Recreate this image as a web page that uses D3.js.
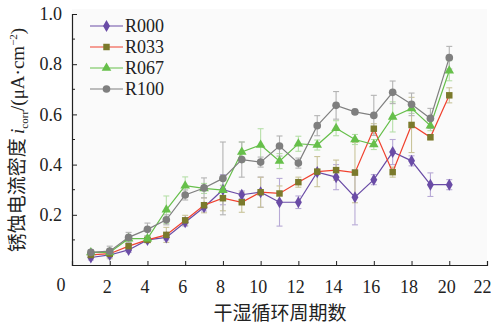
<!DOCTYPE html>
<html>
<head>
<meta charset="utf-8">
<script src="https://cdn.jsdelivr.net/npm/d3@7"></script>
<style>
  body { margin: 0; background: #fff; }
  svg { display: block; }
</style>
</head>
<body>
<div id="chart"></div>
<script>
(function () {
  // data
  const cycles = [1, 2, 3, 4, 5, 6, 7, 8, 9, 10, 11, 12, 13, 14, 15, 16, 17, 18, 19, 20];
  const seriesNames = ["R000", "R033", "R067", "R100"];

  const r000 = [0.03, 0.04, 0.06, 0.10, 0.11, 0.17, 0.23, 0.30, 0.28, 0.29, 0.25, 0.25, 0.37, 0.35, 0.27, 0.34, 0.45, 0.415, 0.32, 0.32];
  const r000Err = [0.01, 0.01, 0.01, 0.01, 0.01, 0.015, 0.015, 0.06, 0.015, 0.06, 0.095, 0.025, 0.01, 0.05, 0.11, 0.02, 0.05, 0.02, 0.047, 0.02];

  const r033 = [0.04, 0.045, 0.075, 0.10, 0.12, 0.178, 0.238, 0.266, 0.25, 0.29, 0.285, 0.33, 0.372, 0.378, 0.368, 0.543, 0.37, 0.558, 0.509, 0.676];
  const r033Err = [0.01, 0.02, 0.01, 0.01, 0.03, 0.02, 0.03, 0.05, 0.04, 0.06, 0.03, 0.02, 0.06, 0.04, 0.12, 0.02, 0.02, 0.11, 0.01, 0.03];

  const r067 = [0.05, 0.05, 0.105, 0.105, 0.22, 0.316, 0.305, 0.298, 0.45, 0.478, 0.414, 0.483, 0.478, 0.545, 0.50, 0.48, 0.59, 0.624, 0.555, 0.774];
  const r067Err = [0.01, 0.01, 0.01, 0.01, 0.055, 0.035, 0.02, 0.02, 0.04, 0.065, 0.03, 0.03, 0.02, 0.03, 0.02, 0.02, 0.06, 0.02, 0.02, 0.04];

  const r100 = [0.05, 0.055, 0.11, 0.142, 0.18, 0.279, 0.307, 0.345, 0.42, 0.41, 0.474, 0.406, 0.555, 0.636, 0.61, 0.596, 0.688, 0.64, 0.584, 0.826];
  const r100Err = [0.01, 0.02, 0.02, 0.025, 0.02, 0.02, 0.04, 0.145, 0.07, 0.02, 0.04, 0.02, 0.04, 0.055, 0.01, 0.08, 0.045, 0.045, 0.04, 0.045];

  const xTicks = [2, 4, 6, 8, 10, 12, 14, 16, 18, 20, 22];
  const yTicks = [0.2, 0.4, 0.6, 0.8, 1.0];
  const yMinorTicks = [0.1, 0.3, 0.5, 0.7, 0.9];

  const W = 494, H = 328;
  const svg = d3.select("#chart").append("svg")
    .attr("width", W)
    .attr("height", H);

  const x = d3.scaleLinear().domain([0, 22]).range([72, 487]);
  const y = d3.scaleLinear().domain([0, 1]).range([265, 14]);

  // plot background
  svg.append("rect")
    .attr("x", x(0)).attr("y", 9)
    .attr("width", x(22) - x(0)).attr("height", y(0) - 9)
    .attr("fill", "#fafafa");

  const styles = {
    R000: { line: "#6a4ca6", fill: "#6a4ca6", err: "#b7a9d6", symbol: d3.symbolDiamond, size: 42 },
    R033: { line: "#f0412e", fill: "#7b7a2c", err: "#c9c49a", symbol: d3.symbolSquare, size: 42 },
    R067: { line: "#66bf4a", fill: "#66bf4a", err: "#b6dfa8", symbol: d3.symbolTriangle, size: 40 },
    R100: { line: "#7f7f7f", fill: "#7f7f7f", err: "#b3b3b3", symbol: d3.symbolCircle, size: 46 }
  };

  const series = [
    { name: "R000", values: r000, errs: r000Err },
    { name: "R033", values: r033, errs: r033Err },
    { name: "R067", values: r067, errs: r067Err },
    { name: "R100", values: r100, errs: r100Err }
  ];

  const line = d3.line().x(d => x(d.c)).y(d => y(d.v));

  // error bars first
  series.forEach(s => {
    const st = styles[s.name];
    const g = svg.append("g").attr("stroke", st.err).attr("stroke-width", 1.1).attr("fill", "none");
    cycles.forEach((c, i) => {
      const lo = y(s.values[i] - s.errs[i]);
      const hi = y(s.values[i] + s.errs[i]);
      const cx = x(c);
      g.append("line").attr("x1", cx).attr("x2", cx).attr("y1", lo).attr("y2", hi);
      g.append("line").attr("x1", cx - 3).attr("x2", cx + 3).attr("y1", lo).attr("y2", lo);
      g.append("line").attr("x1", cx - 3).attr("x2", cx + 3).attr("y1", hi).attr("y2", hi);
    });
  });

  // lines and markers
  series.forEach(s => {
    const st = styles[s.name];
    const pts = cycles.map((c, i) => ({ c: c, v: s.values[i] }));
    svg.append("path")
      .datum(pts)
      .attr("d", line)
      .attr("fill", "none")
      .attr("stroke", st.line)
      .attr("stroke-width", 1.2);
    svg.append("g").selectAll("path")
      .data(pts)
      .join("path")
      .attr("transform", d => `translate(${x(d.c)},${y(d.v)})`)
      .attr("d", d3.symbol().type(st.symbol).size(st.size))
      .attr("fill", st.fill);
  });

  // axes
  const font = "'Liberation Serif', 'DejaVu Serif', serif";
  const xAxis = svg.append("g")
    .attr("transform", `translate(0,${y(0)})`)
    .call(d3.axisBottom(x).tickValues(xTicks).tickSize(-4).tickFormat(d3.format("d")).tickPadding(12));
  xAxis.select(".domain").attr("stroke", "#222").attr("stroke-width", 1.2);
  xAxis.selectAll(".tick line").attr("stroke", "#222");
  xAxis.selectAll(".tick text")
    .attr("font-family", font).attr("font-size", 18).attr("fill", "#222")
    .attr("dy", "0.9em")
    .attr("dx", d => d === 22 ? -5 : -3);

  const yAxis = svg.append("g")
    .attr("transform", `translate(${x(0)},0)`)
    .call(d3.axisLeft(y).tickValues(yTicks).tickSize(-5).tickFormat(d3.format(".1f")).tickPadding(10));
  yAxis.select(".domain").attr("stroke", "#222").attr("stroke-width", 1.2);
  yAxis.selectAll(".tick line").attr("stroke", "#222");
  yAxis.selectAll(".tick text")
    .attr("font-family", font).attr("font-size", 18).attr("fill", "#222");

  svg.append("g").selectAll("line")
    .data(yMinorTicks)
    .join("line")
    .attr("x1", x(0)).attr("x2", x(0) + 3)
    .attr("y1", d => y(d)).attr("y2", d => y(d))
    .attr("stroke", "#222");

  // origin label
  svg.append("text")
    .attr("x", 61).attr("y", 291)
    .attr("text-anchor", "middle")
    .attr("font-family", font).attr("font-size", 18).attr("fill", "#222")
    .text("0");

  // axis titles
  const cjk = "'Noto Sans CJK SC', sans-serif";
  svg.append("text")
    .attr("x", 280).attr("y", 320)
    .attr("text-anchor", "middle")
    .attr("font-family", cjk).attr("font-size", 19).attr("fill", "#222")
    .text("干湿循环周期数");

  const yTitle = svg.append("text")
    .attr("transform", "translate(24,140) rotate(-90)")
    .attr("text-anchor", "middle")
    .attr("font-family", cjk).attr("font-size", 19).attr("fill", "#222");
  yTitle.append("tspan").text("锈蚀电流密度 ");
  yTitle.append("tspan").attr("font-family", font).attr("font-style", "italic").text("i");
  yTitle.append("tspan").attr("font-family", font).attr("font-size", 11).attr("dy", 4).text("corr");
  yTitle.append("tspan").attr("font-family", font).attr("dy", -4).text("/(μA·cm");
  yTitle.append("tspan").attr("font-family", font).attr("font-size", 11).attr("dy", -7).text("−2");
  yTitle.append("tspan").attr("font-family", font).attr("dy", 7).text(")");

  // legend
  const legend = svg.append("g");
  const legendY = [26, 47, 68, 89];
  seriesNames.forEach((name, i) => {
    const st = styles[name];
    const ly = legendY[i];
    legend.append("line")
      .attr("x1", 90).attr("x2", 123).attr("y1", ly).attr("y2", ly)
      .attr("stroke", st.line).attr("stroke-width", 1.2);
    legend.append("path")
      .attr("transform", `translate(106.5,${ly})`)
      .attr("d", d3.symbol().type(st.symbol).size(st.size))
      .attr("fill", st.fill);
    legend.append("text")
      .attr("x", 125).attr("y", ly + 6)
      .attr("font-family", font).attr("font-size", 18).attr("fill", "#222")
      .text(name);
  });
})();
</script>
</body>
</html>
